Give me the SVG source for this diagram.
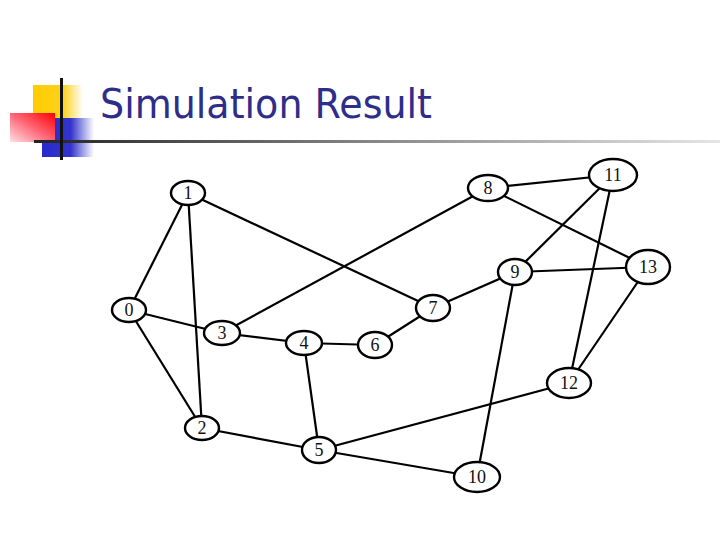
<svg xmlns="http://www.w3.org/2000/svg" width="720" height="540" viewBox="0 0 720 540">
<defs>
<linearGradient id="gy" x1="0" y1="0" x2="1" y2="0"><stop offset="0" stop-color="#FFCC00"/><stop offset="0.6" stop-color="#FFD21A"/><stop offset="1" stop-color="#FFFFFF"/></linearGradient>
<linearGradient id="gb" x1="0" y1="0" x2="1" y2="0"><stop offset="0" stop-color="#2A2ACC"/><stop offset="0.55" stop-color="#3333CC"/><stop offset="1" stop-color="#FFFFFF"/></linearGradient>
<linearGradient id="gr" x1="1" y1="0" x2="0" y2="1"><stop offset="0" stop-color="#FF0000"/><stop offset="0.5" stop-color="#FF6677"/><stop offset="1" stop-color="#FFE0E4"/></linearGradient>
<linearGradient id="gl" x1="0" y1="0" x2="1" y2="0"><stop offset="0" stop-color="#222222"/><stop offset="0.5" stop-color="#888888"/><stop offset="1" stop-color="#E6E6E6"/></linearGradient>
</defs>
<style>
.n ellipse{fill:#fff;stroke:#000;stroke-width:2.4}
.n text{font-family:"Liberation Serif","Times New Roman",serif;font-size:18px;text-anchor:middle;fill:#111}
#edges line{stroke:#000;stroke-width:2.2}
.title{font-family:"DejaVu Sans",Verdana,sans-serif;font-size:40px;fill:#2E2E8A}
</style>
<rect width="720" height="540" fill="#fff"/>
<g id="decor">
<rect x="33" y="85" width="50" height="36" fill="url(#gy)"/>
<rect x="42" y="118" width="52" height="39" fill="url(#gb)"/>
<rect x="10" y="113" width="45" height="29" fill="url(#gr)"/>
<rect x="34" y="140" width="686" height="3" fill="url(#gl)"/>
<rect x="60" y="78" width="3" height="82" fill="#111"/>
</g>
<text class="title" x="100" y="118" textLength="332" lengthAdjust="spacingAndGlyphs">Simulation Result</text>
<g id="edges">
<line x1="188" y1="193" x2="129" y2="310"/>
<line x1="129" y1="310" x2="222" y2="333"/>
<line x1="129" y1="310" x2="202" y2="428"/>
<line x1="188" y1="193" x2="202" y2="428"/>
<line x1="188" y1="193" x2="433" y2="308"/>
<line x1="222" y1="333" x2="488" y2="188"/>
<line x1="222" y1="333" x2="304" y2="343"/>
<line x1="304" y1="343" x2="375" y2="345"/>
<line x1="304" y1="343" x2="319" y2="450"/>
<line x1="375" y1="345" x2="433" y2="308"/>
<line x1="433" y1="308" x2="515" y2="272"/>
<line x1="488" y1="188" x2="613" y2="175"/>
<line x1="488" y1="188" x2="648" y2="267"/>
<line x1="515" y1="272" x2="613" y2="175"/>
<line x1="515" y1="272" x2="648" y2="267"/>
<line x1="515" y1="272" x2="477" y2="477"/>
<line x1="613" y1="175" x2="569" y2="383"/>
<line x1="648" y1="267" x2="569" y2="383"/>
<line x1="569" y1="383" x2="319" y2="450"/>
<line x1="202" y1="428" x2="319" y2="450"/>
<line x1="319" y1="450" x2="477" y2="477"/>
</g>
<g id="n0" class="n"><ellipse cx="129" cy="310" rx="17" ry="12"/><text x="129" y="316">0</text></g>
<g id="n1" class="n"><ellipse cx="188" cy="193" rx="17" ry="12"/><text x="188" y="199">1</text></g>
<g id="n2" class="n"><ellipse cx="202" cy="428" rx="17" ry="12"/><text x="202" y="434">2</text></g>
<g id="n3" class="n"><ellipse cx="222" cy="333" rx="18" ry="12"/><text x="222" y="339">3</text></g>
<g id="n4" class="n"><ellipse cx="304" cy="343" rx="18" ry="12"/><text x="304" y="349">4</text></g>
<g id="n5" class="n"><ellipse cx="319" cy="450" rx="17" ry="13"/><text x="319" y="456">5</text></g>
<g id="n6" class="n"><ellipse cx="375" cy="345" rx="17" ry="13"/><text x="375" y="351">6</text></g>
<g id="n7" class="n"><ellipse cx="433" cy="308" rx="17" ry="13"/><text x="433" y="314">7</text></g>
<g id="n8" class="n"><ellipse cx="488" cy="188" rx="20" ry="13"/><text x="488" y="194">8</text></g>
<g id="n9" class="n"><ellipse cx="515" cy="272" rx="17" ry="13"/><text x="515" y="278">9</text></g>
<g id="n10" class="n"><ellipse cx="477" cy="477" rx="23" ry="15"/><text x="477" y="483">10</text></g>
<g id="n11" class="n"><ellipse cx="613" cy="175" rx="24" ry="16"/><text x="613" y="181">11</text></g>
<g id="n12" class="n"><ellipse cx="569" cy="383" rx="22" ry="15"/><text x="569" y="389">12</text></g>
<g id="n13" class="n"><ellipse cx="648" cy="267" rx="22" ry="17"/><text x="648" y="273">13</text></g>
</svg>
